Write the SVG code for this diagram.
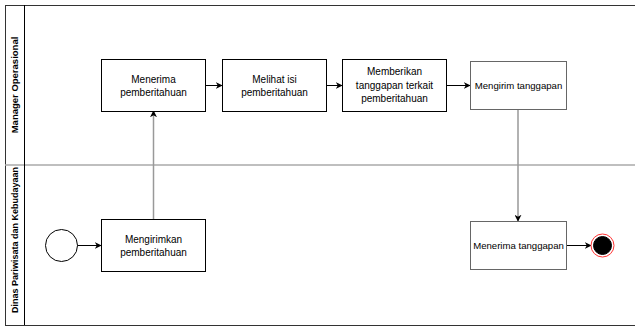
<svg xmlns="http://www.w3.org/2000/svg" width="635" height="327" viewBox="0 0 635 327">
<defs>
<style>
.box{fill:#fff;stroke:#000;stroke-width:1}
.boxg{fill:#fff;stroke:#666;stroke-width:1}
.t{font-family:"Liberation Sans",Arial,sans-serif;font-size:10px;fill:#000;text-anchor:middle}
.ts{font-family:"Liberation Sans",Arial,sans-serif;font-size:9.6px;fill:#000;text-anchor:middle}
.lane{font-family:"Liberation Sans",Arial,sans-serif;font-weight:bold;fill:#000;text-anchor:middle}
.c{fill:none;stroke:#000;stroke-width:1;marker-end:url(#ah)}
.cg{fill:none;stroke:#999;stroke-width:1.5;marker-end:url(#ah)}
</style>
<marker id="ah" viewBox="0 0 10 10" refX="9" refY="5" markerWidth="7" markerHeight="7" markerUnits="userSpaceOnUse" orient="auto">
<path d="M0,0 L10,5 L0,10 L3,5 Z" fill="#000"/>
</marker>
</defs>
<rect width="635" height="327" fill="#fff"/>
<g id="pool">
<rect x="5.5" y="5.5" width="640" height="320" fill="none" stroke="#333" stroke-width="1"/>
<line x1="5" y1="165" x2="635" y2="165" stroke="#aaa" stroke-width="1.5"/>
<line x1="24.5" y1="5" x2="24.5" y2="325" stroke="#000" stroke-width="1"/>
<text class="lane" font-size="9.5" transform="translate(17.5,85) rotate(-90)">Manager Operasional</text>
<text class="lane" font-size="9" transform="translate(17.5,240) rotate(-90)">Dinas Pariwisata dan Kebudayaan</text>
</g>
<g id="connectors">
<line class="c" x1="77" y1="245.5" x2="101" y2="245.5"/>
<line class="cg" x1="153.5" y1="219" x2="153.5" y2="111"/>
<line class="c" x1="206" y1="85.5" x2="222" y2="85.5"/>
<line class="c" x1="327" y1="85.5" x2="342" y2="85.5"/>
<line class="c" x1="446" y1="85.5" x2="470" y2="85.5"/>
<line class="cg" x1="518" y1="109" x2="518" y2="221"/>
<line class="c" x1="566" y1="245.5" x2="591" y2="245.5"/>
</g>
<g id="start">
<circle cx="61.5" cy="245.5" r="16" fill="#fff" stroke="#000" stroke-width="1"/>
</g>
<g id="mengirimkan">
<rect class="box" x="101.5" y="219.5" width="104" height="52"/>
<text class="t" x="153.5" y="243">Mengirimkan</text>
<text class="t" x="153.5" y="256">pemberitahuan</text>
</g>
<g id="menerima">
<rect class="box" x="101.5" y="59.5" width="104" height="52"/>
<text class="t" x="153.5" y="83">Menerima</text>
<text class="t" x="153.5" y="96">pemberitahuan</text>
</g>
<g id="melihat">
<rect class="box" x="222.5" y="59.5" width="104" height="52"/>
<text class="t" x="274.5" y="83">Melihat isi</text>
<text class="t" x="274.5" y="96">pemberitahuan</text>
</g>
<g id="memberikan">
<rect class="box" x="342.5" y="59.5" width="104" height="52"/>
<text class="t" x="394.5" y="75">Memberikan</text>
<text class="t" x="394.5" y="89">tanggapan terkait</text>
<text class="t" x="394.5" y="102">pemberitahuan</text>
</g>
<g id="mengirim">
<rect class="boxg" x="470.5" y="61.5" width="96" height="48"/>
<text class="ts" x="518.5" y="88.5">Mengirim tanggapan</text>
</g>
<g id="menerima-tanggapan">
<rect class="boxg" x="470.5" y="221.5" width="96" height="48"/>
<text class="ts" x="518.5" y="248.5">Menerima tanggapan</text>
</g>
<g id="end">
<circle cx="602.5" cy="245.5" r="11.5" fill="#fff" stroke="#ff3333" stroke-width="1"/>
<circle cx="602.5" cy="245.5" r="9" fill="#000" stroke="#000" stroke-width="1"/>
</g>
</svg>
